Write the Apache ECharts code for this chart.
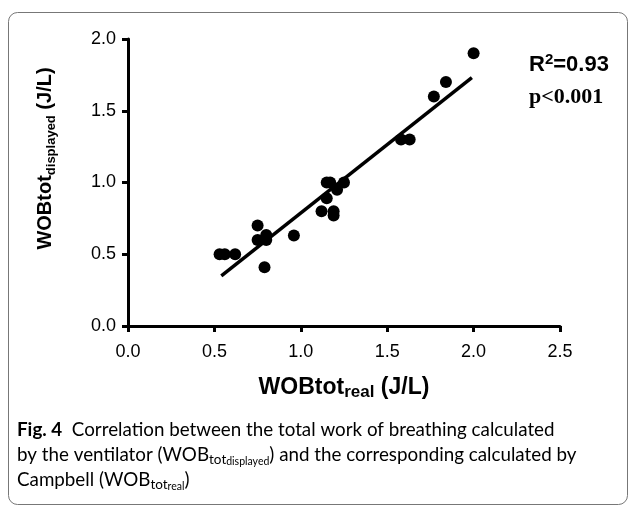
<!DOCTYPE html>
<html>
<head>
<meta charset="utf-8">
<script src="https://cdn.jsdelivr.net/npm/echarts@6/dist/echarts.min.js"></script>
<style>
  html, body { margin: 0; padding: 0; background: #fff; }
  #chart { width: 630px; height: 506px; }
</style>
</head>
<body>
<div id="chart"></div>
<script>
// WOBtot real (x) vs WOBtot displayed (y)
const wobReal = [2.00, 1.84, 1.77, 1.58, 1.63, 1.15, 1.17, 1.25, 1.21, 1.15, 1.12, 1.19, 1.19, 0.96, 0.75, 0.75, 0.80, 0.80, 0.79, 0.53, 0.56, 0.62]
const wobDisplayed = [1.90, 1.70, 1.60, 1.30, 1.30, 1.00, 1.00, 1.00, 0.95, 0.89, 0.80, 0.80, 0.77, 0.63, 0.70, 0.60, 0.635, 0.60, 0.41, 0.50, 0.50, 0.50]
// regression line end points
const fitX = [0.54, 1.99]
const fitY = [0.35, 1.73]
const xTicks = [0, 0.5, 1.0, 1.5, 2.0, 2.5]
const yTicks = [0, 0.5, 1.0, 1.5, 2.0]

const chart = echarts.init(document.getElementById('chart'))

const points = wobReal.map((x, i) => [x, wobDisplayed[i]])
const fitLine = fitX.map((x, i) => [x, fitY[i]])

const axisCommon = {
  type: 'value',
  interval: 0.5,
  splitLine: { show: false },
  axisLine: { show: true, onZero: false, lineStyle: { color: '#000', width: 3 } },
  axisTick: { show: true, length: 6, lineStyle: { color: '#000', width: 3 } },
  axisLabel: {
    color: '#000',
    fontFamily: 'Liberation Sans',
    fontSize: 18,
    formatter: v => v.toFixed(1)
  }
}

function titleRich(main, sub, subH) {
  return {
    m: { fontFamily: 'Liberation Sans', fontWeight: 'bold', fontSize: main, color: '#000', lineHeight: 26, verticalAlign: 'middle' },
    s: { fontFamily: 'Liberation Sans', fontWeight: 'bold', fontSize: sub, color: '#000', lineHeight: subH, verticalAlign: 'bottom' }
  }
}

const capMain = { fontFamily: 'Lato', fontSize: 18.8, color: '#231f20', lineHeight: 25, verticalAlign: 'middle' }
const capRich = {
  b: Object.assign({}, capMain, { fontWeight: 'bold' }),
  n: capMain,
  s1: { fontFamily: 'Lato', fontSize: 13.5, color: '#231f20', lineHeight: 16, verticalAlign: 'bottom' },
  s2: { fontFamily: 'Lato', fontSize: 10.5, color: '#231f20', lineHeight: 10, verticalAlign: 'bottom' }
}

const option = {
  animation: false,
  backgroundColor: '#fff',
  grid: { left: 128, right: 70, top: 39, bottom: 180, containLabel: false },
  xAxis: Object.assign({}, axisCommon, {
    min: xTicks[0],
    max: xTicks[xTicks.length - 1],
    name: '{m|WOBtot}{s|real}{m| (J/L)}',
    nameLocation: 'middle',
    nameGap: 49,
    nameTextStyle: { rich: titleRich(23, 17, 6) },
    axisLabel: Object.assign({}, axisCommon.axisLabel, { margin: 17 })
  }),
  yAxis: Object.assign({}, axisCommon, {
    min: yTicks[0],
    max: yTicks[yTicks.length - 1],
    name: '{m|WOBtot}{s|displayed}{m| (J/L)}',
    nameLocation: 'middle',
    nameRotate: 90,
    nameGap: 70,
    nameTextStyle: { rich: titleRich(20, 13, 8), padding: [0, 0, 0, 48] },
    axisLabel: Object.assign({}, axisCommon.axisLabel, { margin: 12 })
  }),
  graphic: [
    {
      type: 'rect',
      shape: { x: 8.5, y: 12.5, width: 619, height: 492, r: 9 },
      style: { fill: 'none', stroke: '#777', lineWidth: 1 },
      silent: true
    },
    {
      type: 'text',
      left: 529,
      top: 52,
      style: {
        text: '{r|R}{u|2}{r|=0.93}',
        rich: {
          r: { fontFamily: 'Liberation Sans', fontWeight: 'bold', fontSize: 22, color: '#000', lineHeight: 26, verticalAlign: 'middle' },
          u: { fontFamily: 'Liberation Sans', fontWeight: 'bold', fontSize: 15, color: '#000', lineHeight: 14, verticalAlign: 'top' }
        }
      }
    },
    {
      type: 'text',
      left: 529,
      top: 86,
      style: {
        text: 'p<0.001',
        fontFamily: 'Liberation Serif',
        fontWeight: 'bold',
        fontSize: 22,
        fill: '#000'
      }
    },
    {
      type: 'text',
      left: 17,
      top: 420,
      style: {
        text: '{b|Fig. 4}{n|  Correlation between the total work of breathing calculated}\n' +
          '{n|by the ventilator (WOB}{s1|tot}{s2|displayed}{n|) and the corresponding calculated by}\n' +
          '{n|Campbell (WOB}{s1|tot}{s2|real}{n|)}',
        rich: capRich
      }
    }
  ],
  series: [
    {
      name: 'Regression',
      type: 'line',
      data: fitLine,
      showSymbol: false,
      symbol: 'none',
      lineStyle: { color: '#000', width: 3.5 },
      z: 2
    },
    {
      name: 'WOBtot',
      type: 'scatter',
      data: points,
      symbol: 'circle',
      symbolSize: 12,
      itemStyle: { color: '#000', opacity: 1 },
      z: 3
    }
  ]
}

chart.setOption(option)
</script>
</body>
</html>
